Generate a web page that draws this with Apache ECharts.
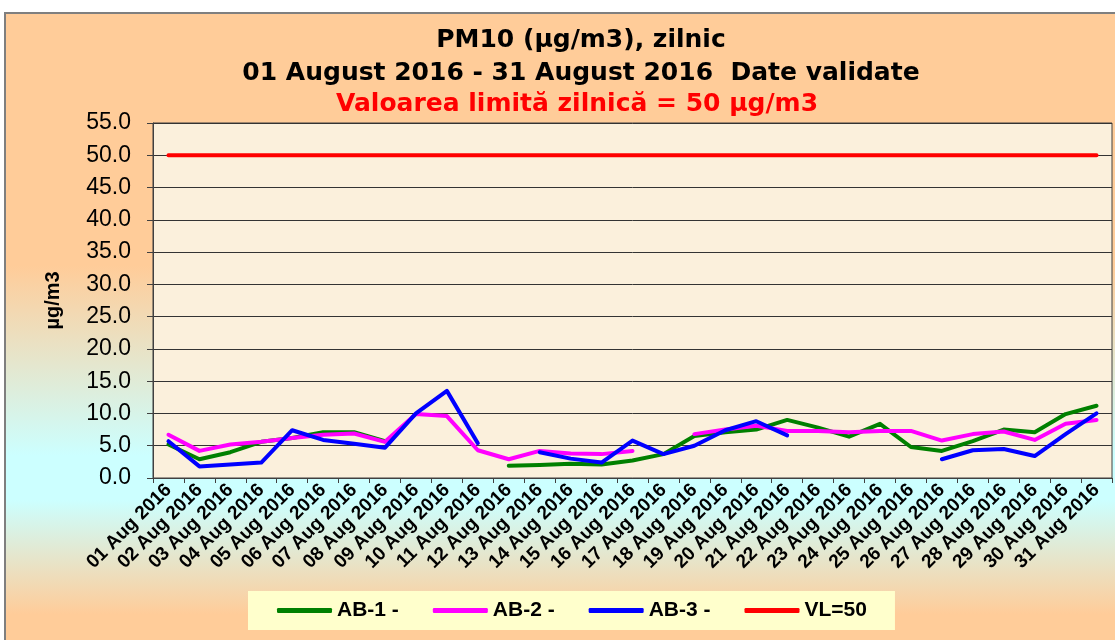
<!DOCTYPE html>
<html>
<head>
<meta charset="utf-8">
<script src="https://cdn.jsdelivr.net/npm/echarts@6/dist/echarts.min.js"></script>
<style>
  html, body { margin: 0; padding: 0; background: #fff; }
  #chart { width: 1115px; height: 640px; }
</style>
</head>
<body>
<div id="chart"></div>
<script>
const days = [
  '01 Aug 2016', '02 Aug 2016', '03 Aug 2016', '04 Aug 2016', '05 Aug 2016',
  '06 Aug 2016', '07 Aug 2016', '08 Aug 2016', '09 Aug 2016', '10 Aug 2016',
  '11 Aug 2016', '12 Aug 2016', '13 Aug 2016', '14 Aug 2016', '15 Aug 2016',
  '16 Aug 2016', '17 Aug 2016', '18 Aug 2016', '19 Aug 2016', '20 Aug 2016',
  '21 Aug 2016', '22 Aug 2016', '23 Aug 2016', '24 Aug 2016', '25 Aug 2016',
  '26 Aug 2016', '27 Aug 2016', '28 Aug 2016', '29 Aug 2016', '30 Aug 2016',
  '31 Aug 2016'
]
// null = no validated data that day
const ab1 = [5.2, 2.9, 4.0, 5.6, 6.2, 7.1, 7.1, 5.7, null, null,
  null, 1.9, 2.0, 2.2, 2.1, 2.7, 3.7, 6.5, 7.1, 7.5,
  9.0, 7.8, 6.4, 8.4, 4.8, 4.2, 5.7, 7.5, 7.1, 9.9, 11.2]
const ab2 = [6.7, 4.2, 5.2, 5.6, 6.2, 6.7, 6.9, 5.6, 9.9, 9.6,
  4.3, 2.9, 4.2, 3.8, 3.7, 4.2, null, 6.8, 7.5, 8.1,
  7.3, 7.3, 7.1, 7.3, 7.3, 5.8, 6.8, 7.2, 5.9, 8.4, 9.0]
const ab3 = [5.7, 1.8, 2.1, 2.4, 7.4, 5.9, 5.3, 4.7, 10.0, 13.5,
  5.4, null, 4.0, 3.0, 2.4, 5.8, 3.7, 5.0, 7.4, 8.8,
  6.6, null, null, null, null, 2.9, 4.3, 4.5, 3.4, 6.8, 10.0]
const vl = [50, 50, 50, 50, 50, 50, 50, 50, 50, 50,
  50, 50, 50, 50, 50, 50, 50, 50, 50, 50,
  50, 50, 50, 50, 50, 50, 50, 50, 50, 50, 50]

const seriesNames = ['AB-1 -', 'AB-2 -', 'AB-3 -', 'VL=50']
const seriesColors = ['#008000', '#FF00FF', '#0000FF', '#FF0000']
const seriesData = [ab1, ab2, ab3, vl]

const chart = echarts.init(document.getElementById('chart'))

const lineSeries = seriesNames.map((name, i) => ({
  name: name,
  type: 'line',
  data: seriesData[i],
  symbol: 'none',
  connectNulls: false,
  lineStyle: { color: seriesColors[i], width: 4, cap: 'round', join: 'round' },
  itemStyle: { color: seriesColors[i] },
  z: 2 + i
}))

const titleFont = { fontFamily: 'DejaVu Sans', fontWeight: 'bold', fontSize: 25 }

chart.setOption({
  animation: false,
  graphic: [{
    type: 'rect',
    z: -100,
    silent: true,
    shape: { x: 5, y: 13, width: 1112, height: 632 },
    style: {
      fill: {
        type: 'linear', x: 0, y: 0, x2: 0, y2: 1,
        colorStops: [
          { offset: 0, color: '#FFCC99' },
          { offset: 0.40, color: '#FFCC99' },
          { offset: 0.70, color: '#CCFFFF' },
          { offset: 0.77, color: '#CCFFFF' },
          { offset: 0.95, color: '#FFCC99' },
          { offset: 1, color: '#FFCC99' }
        ]
      },
      stroke: '#7F7F7F',
      lineWidth: 2
    }
  }],
  title: [
    { text: 'PM10 (µg/m3), zilnic', left: 576, top: 23, textAlign: 'center',
      textStyle: Object.assign({ color: '#000' }, titleFont) },
    { text: '01 August 2016 - 31 August 2016  Date validate', left: 576, top: 56, textAlign: 'center',
      textStyle: Object.assign({ color: '#000' }, titleFont) },
    { text: 'Valoarea limită zilnică = 50 µg/m3', left: 572, top: 87, textAlign: 'center',
      textStyle: Object.assign({ color: '#FF0000' }, titleFont) }
  ],
  grid: {
    left: 153, right: 3, top: 123, bottom: 162,
    show: true,
    backgroundColor: '#FBF0DC',
    borderColor: '#404040',
    borderWidth: 1
  },
  legend: {
    data: seriesNames,
    left: 248,
    top: 591,
    backgroundColor: '#FFFFCC',
    padding: [9, 28, 9, 29],
    itemGap: 34,
    itemWidth: 55,
    itemHeight: 5,
    icon: 'roundRect',
    textStyle: { fontFamily: 'Liberation Sans', fontWeight: 'bold', fontSize: 21, color: '#000' }
  },
  xAxis: {
    type: 'category',
    data: days,
    boundaryGap: true,
    axisLine: { lineStyle: { color: '#404040', width: 1 } },
    axisTick: { show: true, length: 5, interval: 0, lineStyle: { color: '#404040' } },
    axisLabel: {
      interval: 0,
      rotate: 45,
      margin: 9,
      color: '#000',
      fontFamily: 'Liberation Sans',
      fontWeight: 'bold',
      fontSize: 19
    },
    splitLine: { show: false }
  },
  yAxis: {
    type: 'value',
    min: 0,
    max: 55,
    interval: 5,
    name: 'µg/m3',
    nameLocation: 'middle',
    nameGap: 90,
    nameRotate: 90,
    nameTextStyle: { fontFamily: 'Liberation Sans', fontWeight: 'bold', fontSize: 20, color: '#000' },
    axisLine: { show: true, lineStyle: { color: '#404040', width: 1 } },
    axisTick: { show: true, length: 6, lineStyle: { color: '#404040' } },
    axisLabel: {
      margin: 22,
      color: '#000',
      fontFamily: 'Liberation Sans',
      fontSize: 23,
      formatter: v => v.toFixed(1)
    },
    splitLine: { show: true, lineStyle: { color: '#333', width: 1 } }
  },
  series: lineSeries
})
</script>
</body>
</html>
